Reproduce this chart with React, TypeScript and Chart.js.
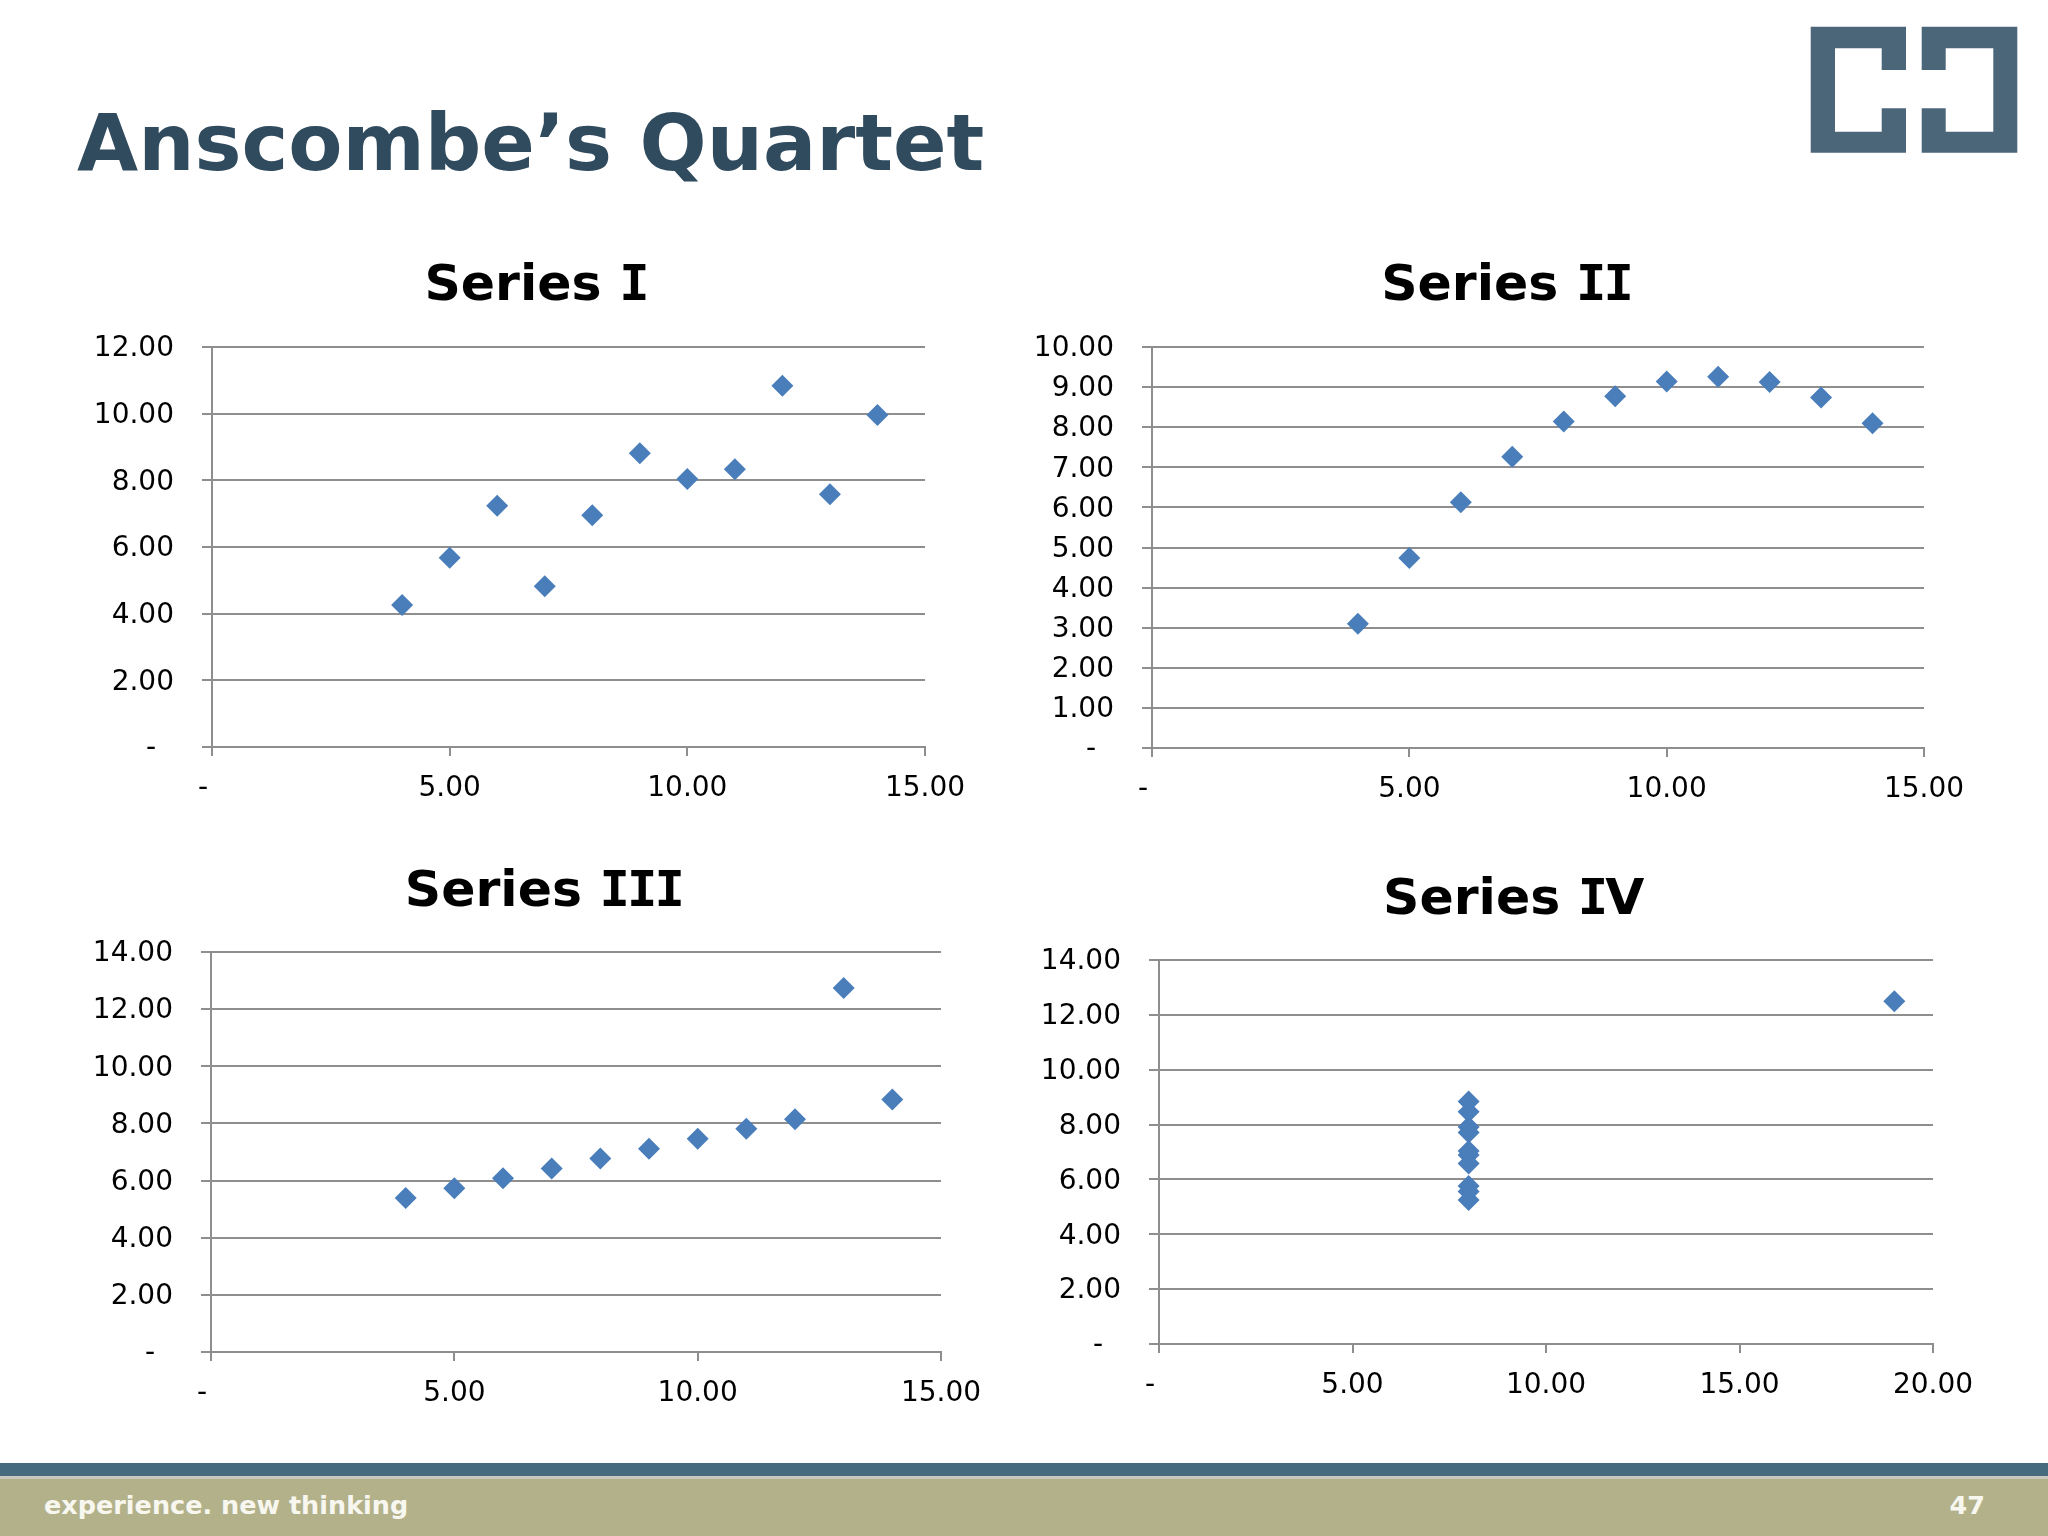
import React, { useEffect, useRef } from "react";
import { Chart, registerables } from "chart.js";

Chart.register(...registerables);

// ---- Data (Anscombe's quartet) ----
const SERIES_I_X = [10, 8, 13, 9, 11, 14, 6, 4, 12, 7, 5];
const SERIES_I_Y = [8.04, 6.95, 7.58, 8.81, 8.33, 9.96, 7.24, 4.26, 10.84, 4.82, 5.68];
const SERIES_II_X = [10, 8, 13, 9, 11, 14, 6, 4, 12, 7, 5];
const SERIES_II_Y = [9.14, 8.14, 8.74, 8.77, 9.26, 8.1, 6.13, 3.1, 9.13, 7.26, 4.74];
const SERIES_III_X = [10, 8, 13, 9, 11, 14, 6, 4, 12, 7, 5];
const SERIES_III_Y = [7.46, 6.77, 12.74, 7.11, 7.81, 8.84, 6.08, 5.39, 8.15, 6.42, 5.73];
const SERIES_IV_X = [8, 8, 8, 8, 8, 8, 8, 19, 8, 8, 8];
const SERIES_IV_Y = [6.58, 5.76, 7.71, 8.84, 8.47, 7.04, 5.25, 12.5, 5.56, 7.91, 6.89];

const PANEL_TITLES = ["Series I", "Series II", "Series III", "Series IV"];
const FOOTER_TEXT = "experience. new thinking";
const PAGE_NUMBER = "47";
const MAIN_TITLE = "Anscombe\u2019s Quartet";

const FONT = "'DejaVu Sans', Verdana, sans-serif";
const MONO = "'DejaVu Sans Mono', monospace";
const BLUE = "#4a7ebb";
const GRID = "#8e8e8e";
const YW = 140;
const PT = 24;
const PR = 60;
const XH = 80;
const TITLE_SIZE = 50.5;

const fmt = (v: any) => (Number(v) === 0 ? "-  " : Number(v).toFixed(2));

type PanelProps = {
  xs: number[];
  ys: number[];
  xMax: number;
  yMax: number;
  yStep: number;
  left: number;
  top: number;
  w: number;
  h: number;
};

function Panel({ xs, ys, xMax, yMax, yStep, left, top, w, h }: PanelProps) {
  const ref = useRef<HTMLCanvasElement>(null);
  const cw = YW + w + PR;
  const ch = PT + h + XH;
  useEffect(() => {
    if (!ref.current) return;
    const chart = new Chart(ref.current, {
      type: "scatter",
      data: {
        datasets: [
          {
            data: xs.map((x, i) => ({ x, y: ys[i] })),
            pointStyle: "rectRot",
            pointRadius: 11,
            pointHoverRadius: 11,
            backgroundColor: BLUE,
            borderColor: BLUE,
            borderWidth: 0,
          } as any,
        ],
      },
      options: {
        responsive: false,
        animation: false,
        layout: { padding: { top: PT, right: PR, left: 0, bottom: 0 } },
        plugins: { legend: { display: false }, tooltip: { enabled: false } },
        scales: {
          x: {
            type: "linear",
            min: 0,
            max: xMax,
            ticks: {
              stepSize: 5,
              callback: fmt,
              padding: 16,
              color: "#000",
              font: { size: 28, family: FONT },
              maxRotation: 0,
              autoSkip: false,
            },
            grid: {
              drawOnChartArea: false,
              drawTicks: true,
              tickLength: 9,
              color: GRID,
              lineWidth: 2,
            },
            border: { display: true, color: GRID, width: 2 },
            afterFit: (s: any) => {
              s.height = XH;
              s.paddingLeft = 0;
              s.paddingRight = 0;
            },
          },
          y: {
            type: "linear",
            min: 0,
            max: yMax,
            ticks: {
              stepSize: yStep,
              callback: fmt,
              padding: 28,
              labelOffset: 2,
              color: "#000",
              font: { size: 28, family: FONT },
              autoSkip: false,
            },
            grid: {
              drawTicks: true,
              tickLength: 10,
              color: GRID,
              lineWidth: 2,
            },
            border: { display: true, color: GRID, width: 2 },
            afterFit: (s: any) => {
              s.width = YW;
              s.paddingTop = 0;
              s.paddingBottom = 0;
            },
          },
        },
      } as any,
    });
    return () => chart.destroy();
  }, []);
  return (
    <canvas
      ref={ref}
      width={cw}
      height={ch}
      style={{
        position: "absolute",
        left: left - YW,
        top: top - PT,
        width: cw,
        height: ch,
      }}
    />
  );
}

function Title({ text, cx, cy }: { text: string; cx: number; cy: number }) {
  // Capital "I" is drawn in a serifed (monospace) face, like the Verdana original.
  const parts = text.split("").map((c, i) =>
    c === "I" ? (
      <span key={i} style={{ fontFamily: MONO, letterSpacing: "-3px" }}>
        {c}
      </span>
    ) : (
      <span key={i}>{c}</span>
    )
  );
  return (
    <div
      style={{
        position: "absolute",
        left: cx,
        top: cy - 0.48 * TITLE_SIZE,
        transform: "translateX(-50%)",
        font: `bold ${TITLE_SIZE}px ${FONT}`,
        lineHeight: 1,
        color: "#000",
        whiteSpace: "pre",
      }}
    >
      {parts}
    </div>
  );
}

export default function App() {
  useEffect(() => {
    document.body.style.margin = "0";
    document.body.style.overflow = "hidden";
  }, []);
  return (
    <div
      style={{
        position: "absolute",
        left: 0,
        top: 0,
        width: 2048,
        height: 1536,
        background: "#ffffff",
        overflow: "hidden",
        fontFamily: FONT,
      }}
    >
      <div
        style={{
          position: "absolute",
          left: 77,
          top: 142 - 0.48 * 79,
          font: `bold 79px ${FONT}`,
          lineHeight: 1,
          color: "#304b5e",
          whiteSpace: "nowrap",
        }}
      >
        {MAIN_TITLE}
      </div>

      <svg
        style={{ position: "absolute", left: 0, top: 0 }}
        width={2048}
        height={170}
      >
        <polygon
          fill="#4b6679"
          points="1810.7,26.7 1906,26.7 1906,70 1881.7,70 1881.7,48.3 1835,48.3 1835,131.7 1881.7,131.7 1881.7,108.3 1906,108.3 1906,152.7 1810.7,152.7"
        />
        <polygon
          fill="#4b6679"
          points="1921.7,26.7 2017.3,26.7 2017.3,152.7 1921.7,152.7 1921.7,108.3 1945.7,108.3 1945.7,131.7 1993.3,131.7 1993.3,48.3 1945.7,48.3 1945.7,70 1921.7,70"
        />
      </svg>

      <Title text={PANEL_TITLES[0]} cx={535.5} cy={282} />
      <Title text={PANEL_TITLES[1]} cx={1506} cy={282} />
      <Title text={PANEL_TITLES[2]} cx={543.3} cy={888} />
      <Title text={PANEL_TITLES[3]} cx={1513.7} cy={896} />

      <Panel xs={SERIES_I_X} ys={SERIES_I_Y} xMax={15} yMax={12} yStep={2} left={212} top={347} w={713} h={400} />
      <Panel xs={SERIES_II_X} ys={SERIES_II_Y} xMax={15} yMax={10} yStep={1} left={1152} top={347} w={772} h={401} />
      <Panel xs={SERIES_III_X} ys={SERIES_III_Y} xMax={15} yMax={14} yStep={2} left={211} top={952} w={730} h={400} />
      <Panel xs={SERIES_IV_X} ys={SERIES_IV_Y} xMax={20} yMax={14} yStep={2} left={1159} top={960} w={774} h={384} />

      <div style={{ position: "absolute", left: 0, top: 1463, width: 2048, height: 13, background: "#476b7e" }} />
      <div style={{ position: "absolute", left: 0, top: 1476, width: 2048, height: 3, background: "#c9c9bf" }} />
      <div style={{ position: "absolute", left: 0, top: 1479, width: 2048, height: 57, background: "#b3b18a" }} />
      <div
        style={{
          position: "absolute",
          left: 44,
          top: 1493,
          font: `bold 25.5px ${FONT}`,
          lineHeight: 1,
          color: "#f7f7f0",
          whiteSpace: "nowrap",
        }}
      >
        {FOOTER_TEXT}
      </div>
      <div
        style={{
          position: "absolute",
          right: 2048 - 1985,
          top: 1493,
          font: `bold 25.5px ${FONT}`,
          lineHeight: 1,
          color: "#f7f7f0",
          whiteSpace: "nowrap",
        }}
      >
        {PAGE_NUMBER}
      </div>
    </div>
  );
}
